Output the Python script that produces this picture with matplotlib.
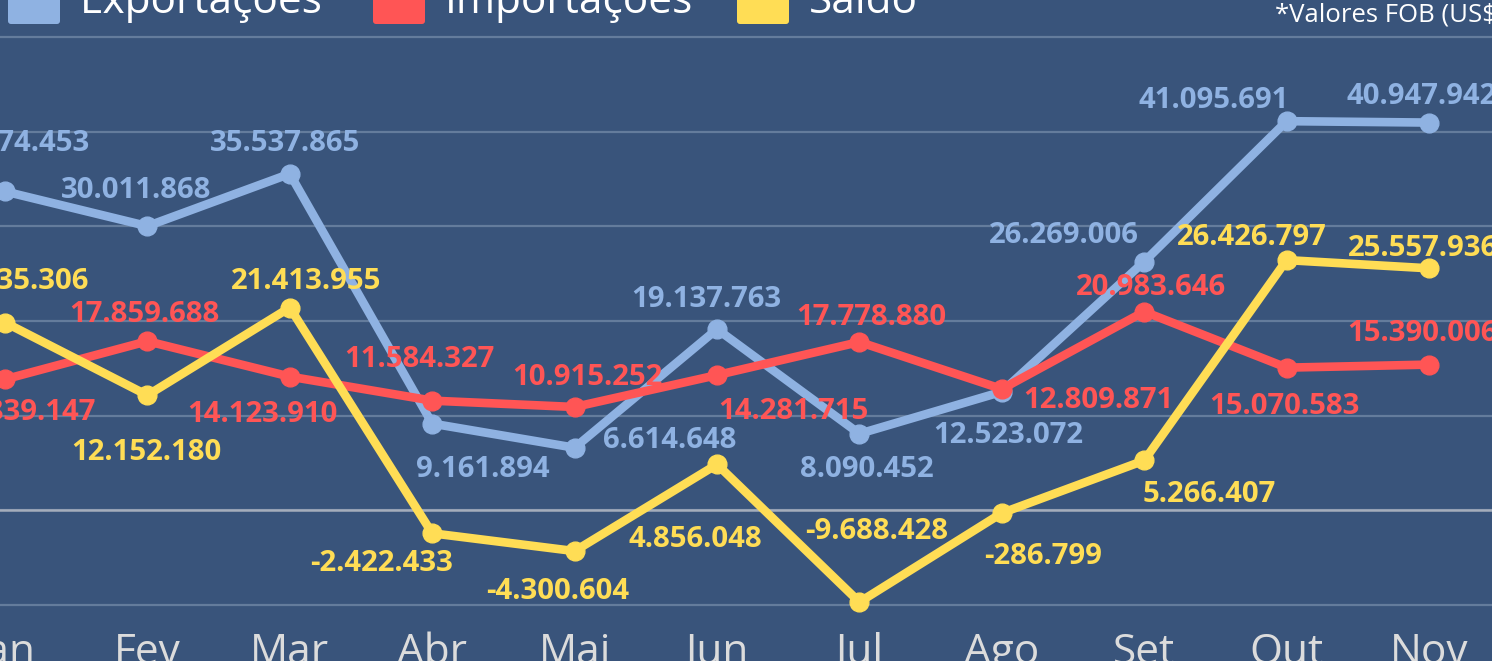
import matplotlib.pyplot as plt
from matplotlib.patches import FancyBboxPatch

# Dados (valores FOB em US$)
meses = ["Jan", "Fev", "Mar", "Abr", "Mai", "Jun", "Jul", "Ago", "Set", "Out", "Nov"]
exportacoes = [33674453, 30011868, 35537865, 9161894, 6614648, 19137763,
               8090452, 12523072, 26269006, 41095691, 40947942]
importacoes = [13839147, 17859688, 14123910, 11584327, 10915252, 14281715,
               17778880, 12809871, 20983646, 15070583, 15390006]
saldo = [19835306, 12152180, 21413955, -2422433, -4300604, 4856048,
         -9688428, -286799, 5266407, 26426797, 25557936]

# deslocamento dos rótulos (pixels)
off_exp = [(10, 51), (-11, 39), (-5, 33), (51, -43), (95, 10), (-11, 33),
           (7, -33), (6, -41), (-80, 29), (-73, 24), (-7, 29)]
off_imp = [(15, -30), (-3, 30), (-27, -35), (-13, 44), (13, 32), (76, -33),
           (12, 27), (97, -8), (7, 27), (-2, -36), (-7, 34)]
off_sal = [(8, 44), (-1, -54), (16, 29), (-51, -27), (-17, -37), (-22, -72),
           (17, 74), (41, -40), (65, -31), (-35, 26), (-6, 23)]

fundo = "#39547b"
cores = {"Exportações": "#8fb2e2", "Importações": "#ff5555", "Saldo": "#ffdd55"}

plt.rcParams["font.family"] = ["Open Sans", "DejaVu Sans"]

fig = plt.figure(figsize=(14.92, 6.61), dpi=100, facecolor=fundo)
ax = fig.add_axes([0, 0.0703, 1, 0.9297])
ax.set_facecolor(fundo)

x = list(range(len(meses)))
series = [("Exportações", exportacoes, off_exp),
          ("Importações", importacoes, off_imp),
          ("Saldo", saldo, off_sal)]

for z, (nome, vals, offs) in enumerate(series):
    ax.plot(x, vals, color=cores[nome], linewidth=6.2, marker="o",
            markersize=13.5, zorder=3 + z, solid_joinstyle="round")
    for xi, v, (dx, dy) in zip(x, vals, offs):
        rot = f"{v:,}".replace(",", ".")
        ax.annotate(rot, (xi, v), xytext=(dx, dy - 3), textcoords="offset pixels",
                    ha="center", va="center", color=cores[nome],
                    fontsize=21.2, fontweight="bold", zorder=10)

ax.set_xlim(-0.0351, 10.442)
ax.set_ylim(-11.0e6, 53.89e6)
ax.set_yticks([-10e6, 0, 10e6, 20e6, 30e6, 40e6, 50e6])
ax.set_xticks(x)
ax.set_xticklabels(meses)
ax.tick_params(axis="x", length=0, pad=12.5, labelsize=30.5, labelcolor="#dcdcdc")
ax.tick_params(axis="y", length=0, labelleft=False)
ax.grid(axis="y", color="#647c9c", linewidth=1.6, zorder=1)
ax.axhline(0, color="#a4adbb", linewidth=1.8, zorder=2)
for s in ax.spines.values():
    s.set_visible(False)

# legenda desenhada no topo (em pixels)
H = 661
leg_x = [8, 373, 737]
for (nome, _, _), lx in zip(series, leg_x):
    fig.add_artist(FancyBboxPatch((lx, H - 24), 52, 52, boxstyle="round,pad=0,rounding_size=3",
                                  facecolor=cores[nome], edgecolor="none", transform=None))
    fig.text(lx + 72, H - 13, nome, transform=None, color="white", fontsize=30.5,
             va="baseline", ha="left")

fig.text(1275, H - 22, "*Valores FOB (US$)", transform=None, color="white",
         fontsize=18.5, va="baseline", ha="left")

fig.savefig("out.png", dpi=100, facecolor=fundo)
